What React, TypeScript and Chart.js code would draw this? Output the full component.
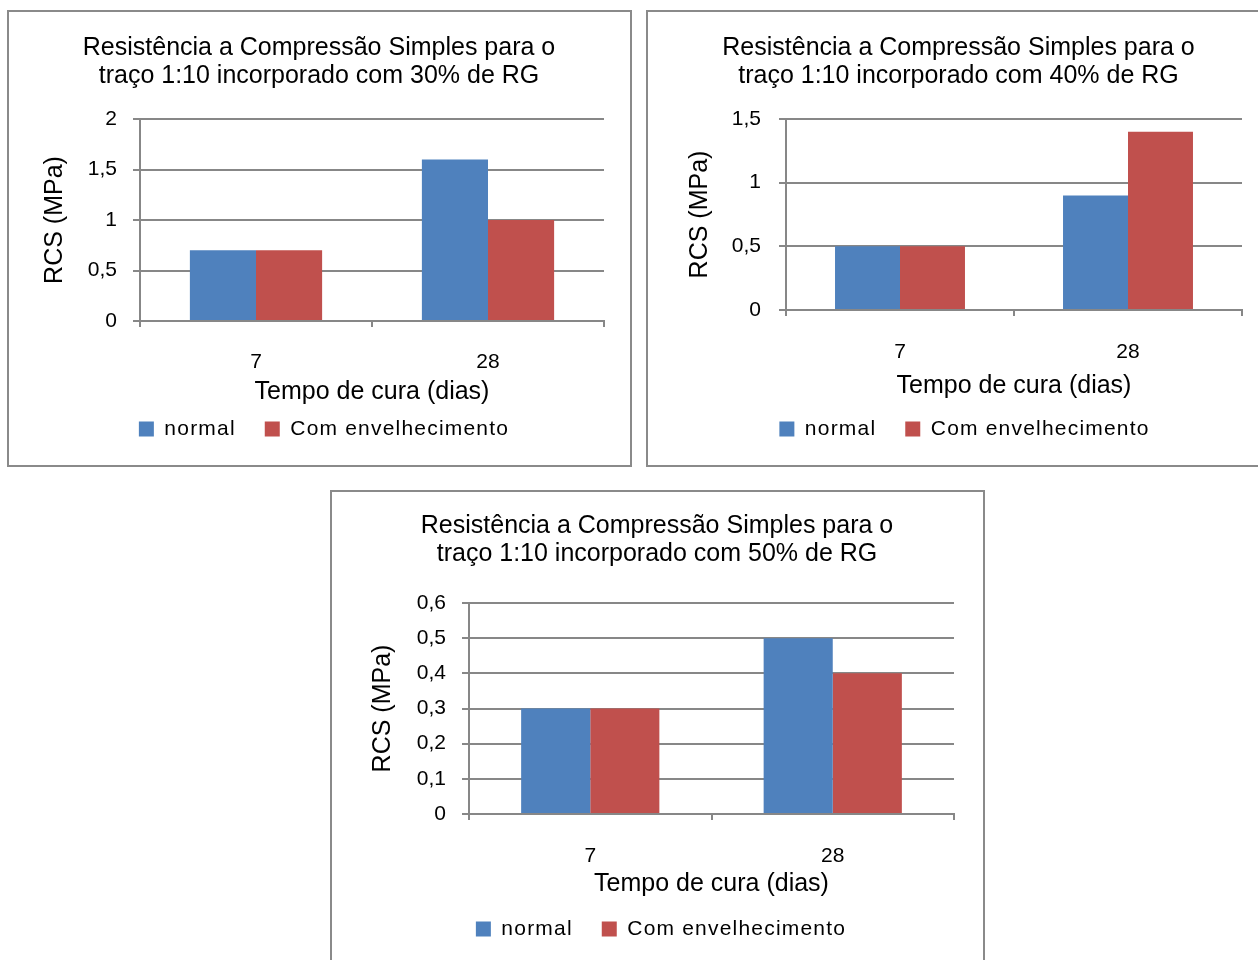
import React, { useEffect, useRef } from "react";
import { Chart, registerables } from "chart.js";

Chart.register(...registerables);

// ---------- data ----------
const categories = ["7", "28"];
const seriesNames = ["normal", "Com envelhecimento"];

const normal30 = [0.7, 1.6];
const aged30 = [0.7, 1.0];
const normal40 = [0.5, 0.9];
const aged40 = [0.5, 1.4];
const normal50 = [0.3, 0.5];
const aged50 = [0.3, 0.4];

const title30 = ["Resistência a Compressão Simples para o", "traço 1:10 incorporado com 30% de RG"];
const title40 = ["Resistência a Compressão Simples para o", "traço 1:10 incorporado com 40% de RG"];
const title50 = ["Resistência a Compressão Simples para o", "traço 1:10 incorporado com 50% de RG"];

const yAxisTitle = "RCS (MPa)";
const xAxisTitle = "Tempo de cura (dias)";

const yMax30 = 2;
const yStep30 = 0.5;
const yMax40 = 1.5;
const yStep40 = 0.5;
const yMax50 = 0.6;
const yStep50 = 0.1;

// ---------- styles ----------
const BLUE = "#4F81BD";
const RED = "#C0504D";
const GRAY = "#878787";
const FONT = "'Liberation Sans', Arial, sans-serif";

type Layout = {
  left: number; top: number; boxW: number; boxH: number;
  W: number; H: number; padL: number; padR: number; padB: number;
  yW: number; xH: number; titlePadTop: number; titlePadBottom: number;
  yTitlePadTop: number; yTickPad: number; xTickPad: number; xTitlePadBottom: number;
  legendShift: number;
};

const layout1: Layout = {
  left: 7, top: 10, boxW: 625, boxH: 457, W: 621, H: 453, padL: 25, padR: 26, padB: 15.5,
  yW: 106, xH: 68.5, titlePadTop: 22, titlePadBottom: 29, yTitlePadTop: 6, yTickPad: 16,
  xTickPad: 22.4, xTitlePadBottom: -17.5, legendShift: 5,
};
const layout2: Layout = {
  left: 646, top: 10, boxW: 625, boxH: 457, W: 621, H: 453, padL: 27, padR: 27, padB: 15.5,
  yW: 111, xH: 79.5, titlePadTop: 22, titlePadBottom: 29, yTitlePadTop: 10, yTickPad: 18,
  xTickPad: 23.4, xTitlePadBottom: -11.5, legendShift: 6,
};
const layout3: Layout = {
  left: 330, top: 490, boxW: 655, boxH: 480, W: 651, H: 468, padL: 28, padR: 29, padB: 10.5,
  yW: 109, xH: 75.5, titlePadTop: 20, titlePadBottom: 35, yTitlePadTop: 8, yTickPad: 16,
  xTickPad: 23.4, xTitlePadBottom: -9.5, legendShift: 4,
};

function fmt(v: number): string {
  return String(parseFloat(Number(v).toFixed(2))).replace(".", ",");
}

function patchLegend(chart: any, spacing: string, shift: number) {
  const lg = chart.legend;
  if (!lg) return;
  const wrap = (name: string, dx: number) => {
    const orig = lg[name].bind(lg);
    lg[name] = (...args: any[]) => {
      const ctx = lg.ctx || chart.ctx;
      ctx.save();
      ctx.letterSpacing = spacing;
      if (dx) ctx.translate(dx, 0);
      try {
        return orig(...args);
      } finally {
        ctx.restore();
      }
    };
  };
  wrap("fit", 0);
  wrap("draw", shift);
}

type PanelProps = {
  L: Layout; title: string[]; normal: number[]; aged: number[]; yMax: number; yStep: number;
};

function Panel({ L, title, normal, aged, yMax, yStep }: PanelProps) {
  const ref = useRef<HTMLCanvasElement | null>(null);
  useEffect(() => {
    if (!ref.current) return;
    const chart = new Chart(ref.current, {
      type: "bar",
      data: {
        labels: categories,
        datasets: [
          { label: seriesNames[0], data: normal, backgroundColor: BLUE, borderWidth: 0 },
          { label: seriesNames[1], data: aged, backgroundColor: RED, borderWidth: 0 },
        ],
      },
      options: {
        responsive: false,
        animation: false,
        devicePixelRatio: 1,
        events: [],
        layout: { padding: { left: L.padL, right: L.padR, top: 0, bottom: L.padB } },
        datasets: { bar: { categoryPercentage: 0.57, barPercentage: 1.0 } } as any,
        plugins: {
          tooltip: { enabled: false },
          title: {
            display: true,
            text: title,
            color: "#000",
            font: { family: FONT, size: 25, weight: "normal", lineHeight: "28px" } as any,
            padding: { top: L.titlePadTop, bottom: L.titlePadBottom },
          },
          legend: {
            display: true,
            position: "bottom",
            labels: {
              color: "#000",
              font: { family: FONT, size: 21 },
              boxWidth: 15,
              boxHeight: 15,
              padding: 29,
            },
          },
        },
        scales: {
          x: {
            grid: {
              display: true,
              drawOnChartArea: false,
              drawTicks: true,
              tickLength: 6,
              color: GRAY,
              lineWidth: 2,
              offset: true,
            },
            border: { display: true, color: GRAY, width: 2 },
            ticks: { color: "#000", font: { family: FONT, size: 21 }, padding: L.xTickPad, maxRotation: 0 },
            title: {
              display: true,
              text: xAxisTitle,
              color: "#000",
              font: { family: FONT, size: 25, lineHeight: 1.2 },
              padding: { top: 0, bottom: L.xTitlePadBottom },
            },
            afterFit: (s: any) => { s.height = L.xH; },
          },
          y: {
            min: 0,
            max: yMax,
            grid: { color: GRAY, lineWidth: 2, drawTicks: true, tickLength: 7 },
            border: { display: true, color: GRAY, width: 2 },
            ticks: {
              stepSize: yStep,
              color: "#000",
              font: { family: FONT, size: 21 },
              padding: L.yTickPad,
              callback: (v: any) => fmt(Number(v)),
            },
            title: {
              display: true,
              text: yAxisTitle,
              color: "#000",
              font: { family: FONT, size: 25, lineHeight: 1.2 },
              padding: { top: L.yTitlePadTop, bottom: 0 },
            },
            afterFit: (s: any) => { s.width = L.yW; },
          },
        },
      },
    });
    patchLegend(chart, "1.2px", L.legendShift);
    chart.update();
    return () => chart.destroy();
  }, []);
  return (
    <div
      style={{
        position: "absolute",
        left: L.left,
        top: L.top,
        width: L.boxW,
        height: L.boxH,
        border: "2px solid #8a8a8a",
        boxSizing: "border-box",
        background: "#fff",
      }}
    >
      <canvas
        ref={ref}
        width={L.W}
        height={L.H}
        style={{ position: "absolute", left: 0, top: 0, width: L.W, height: L.H }}
      />
    </div>
  );
}

export default function App() {
  return (
    <div
      style={{
        position: "absolute",
        left: 0,
        top: 0,
        width: 1258,
        height: 960,
        overflow: "hidden",
        background: "#fff",
      }}
    >
      <Panel L={layout1} title={title30} normal={normal30} aged={aged30} yMax={yMax30} yStep={yStep30} />
      <Panel L={layout2} title={title40} normal={normal40} aged={aged40} yMax={yMax40} yStep={yStep40} />
      <Panel L={layout3} title={title50} normal={normal50} aged={aged50} yMax={yMax50} yStep={yStep50} />
    </div>
  );
}
